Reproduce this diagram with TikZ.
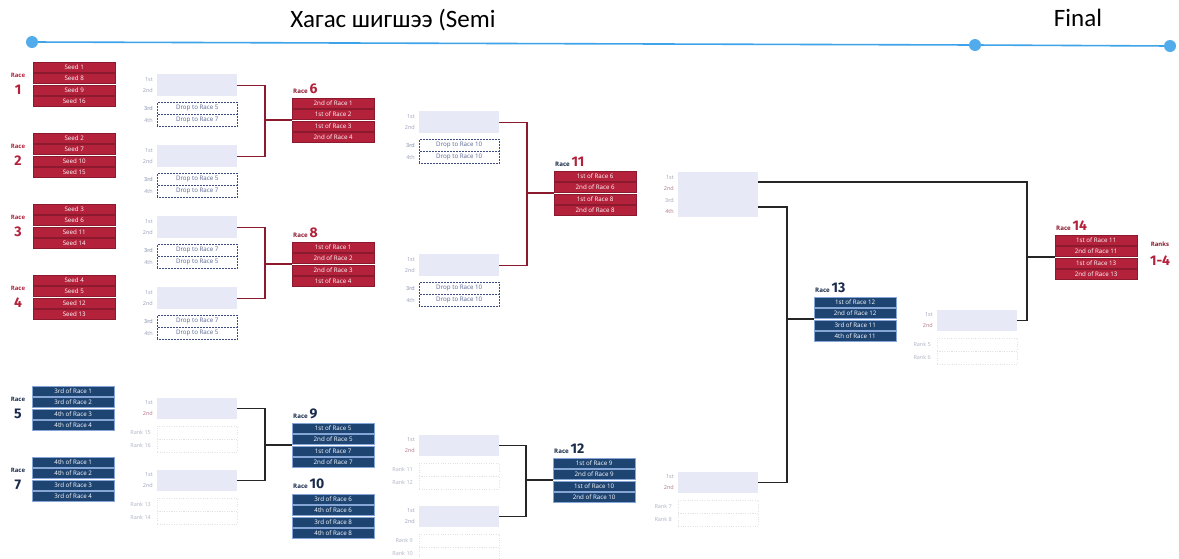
\documentclass[tikz,border=0pt]{standalone}
\usepackage{fontspec}
\setmainfont{Carlito}
\newfontfamily\uifont{Open Sans}
\newfontfamily\numfont{Fira Sans}
\usetikzlibrary{calc}
\definecolor{rred}{HTML}{B3213B}
\definecolor{rredd}{HTML}{8C1A2E}
\definecolor{bblue}{HTML}{1E4472}
\definecolor{bbluel}{HTML}{86A6D8}
\definecolor{navy}{HTML}{1B2B4B}
\definecolor{tl}{HTML}{3FA3EA}
\definecolor{resfill}{HTML}{E7EAF6}
\definecolor{lbl}{HTML}{9CA2B8}
\definecolor{pinklbl}{HTML}{B3788A}
\definecolor{dropc}{HTML}{3C4C80}
\definecolor{linek}{HTML}{262626}
\tikzset{
  rowred/.style={draw=rredd, line width=0.4pt, fill=rred, text=white, minimum width=82pt, minimum height=10pt, inner sep=0pt, font=\uifont\fontsize{6.2}{7}\selectfont, anchor=north west},
  rowblue/.style={rowred, draw=bbluel, fill=bblue},
  resbox/.style={fill=resfill, draw=none, minimum width=80pt, inner sep=0pt, anchor=north west},
  dropbox/.style={draw=dropc, densely dotted, line width=0.5pt, fill=white, minimum width=80pt, minimum height=12pt, inner sep=0pt, anchor=north west, text=dropc!85, font=\uifont\fontsize{6.2}{7}\selectfont},
  rankbox/.style={draw=gray!22, dotted, line width=0.4pt, minimum width=80pt, minimum height=13pt, inner sep=0pt, anchor=north west},
  lab/.style={anchor=east, inner sep=0pt, text=lbl, font=\uifont\fontsize{5.5}{6}\selectfont},
  ranklab/.style={anchor=east, inner sep=0pt, text=lbl!80, font=\uifont\fontsize{5.5}{6}\selectfont},
  redconn/.style={draw=rredd, line width=1.4pt},
  kconn/.style={draw=linek, line width=1.4pt},
  dot/.style={circle, fill=tl!90, draw=none, minimum size=12pt, inner sep=0pt},
  racelab/.style={anchor=base west, inner sep=0pt},
}
\newcommand\rbox[8]{%
  \node[#2] (#1a) at (#3,#4) {#5};
  \node[#2] (#1b) at (#3,{#4+11.4}) {#6};
  \node[#2] (#1c) at (#3,{#4+22.8}) {#7};
  \node[#2] (#1d) at (#3,{#4+34.2}) {#8};
  \coordinate (#1) at (#3,{#4+22.1});
}
\newcommand\resdrop[5]{%
  \node[resbox, minimum height=22pt] (#1) at (#2,#3) {};
  \node[lab] (#1l1) at ({#2-4},{#3+5.5}) {1st};
  \node[lab] (#1l2) at ({#2-4},{#3+16.5}) {2nd};
  \node[dropbox] (#1x) at (#2,{#3+28}) {Drop to Race #4};
  \node[dropbox] (#1y) at (#2,{#3+40}) {Drop to Race #5};
  \node[lab, text=dropc!70] (#1l3) at ({#2-4},{#3+34}) {3rd};
  \node[lab] (#1l4) at ({#2-4},{#3+46}) {4th};
}
\newcommand\resrank[6]{%
  \node[resbox, minimum height=21pt] (#1) at (#2,#3) {};
  \node[lab] (#1l1) at ({#2-4},{#3+5}) {1st};
  \node[lab, text=#6] (#1l2) at ({#2-4},{#3+15.5}) {2nd};
  \node[rankbox] (#1x) at (#2,{#3+27.5}) {};
  \node[rankbox] (#1y) at (#2,{#3+40.5}) {};
  \node[ranklab] (#1l3) at ({#2-6},{#3+34}) {Rank #4};
  \node[ranklab] (#1l4) at ({#2-6},{#3+47.5}) {Rank #5};
}
\newcommand\racetag[3]{% Race colour, number colour, number
  \textcolor{#1}{\uifont\bfseries\fontsize{6.2}{7}\selectfont Race}\,\textcolor{#2}{\numfont\bfseries\fontsize{14}{15}\selectfont #3}}
\begin{document}
\begin{tikzpicture}[x=1pt,y=-1pt]
\useasboundingbox (0,0) rectangle (1179,558);
\fill[white] (0,0) rectangle (1179,558);

% timeline
\node[font=\fontsize{25}{30}\selectfont, text=black] (title) at (393,20) {Хагас шигшээ (Semi};
\node[font=\fontsize{25}{30}\selectfont, text=black] (final) at (1078,18) {Final};
\node[dot] (d1) at (32,42) {};
\node[dot] (d2) at (975,45) {};
\node[dot] (d3) at (1170,46) {};
\draw[tl, line width=1.6pt] (d1) -- (d2) -- (d3);

% left race labels
\foreach \n/\y/\c in {1/62/rred,2/133/rred,3/204/rred,4/275/rred,5/386/navy,7/457/navy}{
  \node[inner sep=0pt, text=\c, font=\uifont\bfseries\fontsize{6}{7}\selectfont] (rl\n) at (18,{\y+13}) {Race};
  \node[inner sep=0pt, text=\c, font=\numfont\bfseries\fontsize{14}{15}\selectfont] (rn\n) at (18,{\y+28}) {\n};
}

% first round races
\rbox{R1}{rowred}{33}{62}{Seed 1}{Seed 8}{Seed 9}{Seed 16}
\rbox{R2}{rowred}{33}{133}{Seed 2}{Seed 7}{Seed 10}{Seed 15}
\rbox{R3}{rowred}{33}{204}{Seed 3}{Seed 6}{Seed 11}{Seed 14}
\rbox{R4}{rowred}{33}{275}{Seed 4}{Seed 5}{Seed 12}{Seed 13}
\rbox{R5}{rowblue}{32}{386}{3rd of Race 1}{3rd of Race 2}{4th of Race 3}{4th of Race 4}
\rbox{R7}{rowblue}{32}{457}{4th of Race 1}{4th of Race 2}{3rd of Race 3}{3rd of Race 4}

% second column results
\resdrop{r1res}{157}{74}{5}{7}
\resdrop{r2res}{157}{145}{5}{7}
\resdrop{r3res}{157}{216}{7}{5}
\resdrop{r4res}{157}{287}{7}{5}
\resrank{r5res}{157}{398}{15}{16}{pinklbl}
\resrank{r7res}{157}{470}{13}{14}{lbl}

% races 6 8 9 10
\rbox{R6}{rowred}{292}{98}{2nd of Race 1}{1st of Race 2}{1st of Race 3}{2nd of Race 4}
\rbox{R8}{rowred}{292}{242}{1st of Race 1}{2nd of Race 2}{2nd of Race 3}{1st of Race 4}
\rbox{R9}{rowblue}{292}{423}{1st of Race 5}{2nd of Race 5}{1st of Race 7}{2nd of Race 7}
\rbox{R10}{rowblue}{292}{494}{3rd of Race 6}{4th of Race 6}{3rd of Race 8}{4th of Race 8}
\node[racelab] (L6) at (293,93) {\racetag{rredd}{rred}{6}};
\node[racelab] (L8) at (293,237) {\racetag{rredd}{rred}{8}};
\node[racelab] (L9) at (293,418) {\racetag{navy}{navy}{9}};
\node[racelab] (L10) at (293,488) {\racetag{navy}{navy}{10}};

% third column results
\resdrop{r6res}{419}{111}{10}{10}
\resdrop{r8res}{419}{254}{10}{10}
\resrank{r9res}{419}{435}{11}{12}{pinklbl}
\resrank{r10res}{419}{506}{9}{10}{lbl}

% races 11 12
\rbox{R11}{rowred}{554}{171}{1st of Race 6}{2nd of Race 6}{1st of Race 8}{2nd of Race 8}
\rbox{R12}{rowblue}{553}{458}{1st of Race 9}{2nd of Race 9}{1st of Race 10}{2nd of Race 10}
\node[racelab] (L11) at (555,166) {\racetag{navy}{rred}{11}};
\node[racelab] (L12) at (554,453) {\racetag{navy}{navy}{12}};

% fourth column results
\node[resbox, minimum height=45pt] (r11res) at (678,172) {};
\node[lab] (r11l1) at (674,177.5) {1st};
\node[lab, text=pinklbl] (r11l2) at (674,188.5) {2nd};
\node[lab] (r11l3) at (674,200) {3rd};
\node[lab, text=pinklbl] (r11l4) at (674,211.5) {4th};
\resrank{r12res}{678}{472}{7}{8}{pinklbl}

% race 13
\rbox{R13}{rowblue}{814}{297}{1st of Race 12}{2nd of Race 12}{3rd of Race 11}{4th of Race 11}
\node[racelab] (L13) at (815,292) {\racetag{navy}{navy}{13}};
\resrank{r13res}{937}{310}{5}{6}{pinklbl}

% race 14
\rbox{R14}{rowred}{1055}{235}{1st of Race 11}{2nd of Race 11}{1st of Race 13}{2nd of Race 13}
\node[racelab] (L14) at (1056,230) {\racetag{rredd}{rred}{14}};
\node[inner sep=0pt, text=rredd, font=\uifont\bfseries\fontsize{6}{7}\selectfont] (ranks) at (1160,244) {Ranks};
\node[inner sep=0pt, text=rred, font=\numfont\bfseries\fontsize{14}{15}\selectfont] (ranksn) at (1160,261) {1-4};

% connectors
\coordinate (j6) at ($(R6)+(-27,0)$);
\draw[redconn] (r1res.east) -| (j6) |- (r2res.east);
\draw[redconn] (j6) -- (R6);
\coordinate (j8) at ($(R8)+(-27,0)$);
\draw[redconn] (r3res.east) -| (j8) |- (r4res.east);
\draw[redconn] (j8) -- (R8);
\coordinate (j9) at ($(R9)+(-27,0)$);
\draw[kconn] (r5res.east) -| (j9) |- (r7res.east);
\draw[kconn] (j9) -- (R9);
\coordinate (j11) at ($(R11)+(-27,0)$);
\draw[redconn] (r6res.east) -| (j11) |- (r8res.east);
\draw[redconn] (j11) -- (R11);
\coordinate (j12) at ($(R12)+(-27,0)$);
\draw[kconn] (r9res.east) -| (j12) |- (r10res.east);
\draw[kconn] (j12) -- (R12);
\coordinate (r11hi) at ($(r11res.north east)+(0,10)$);
\coordinate (r11lo) at ($(r11res.north east)+(0,35)$);
\coordinate (j14) at ($(R14)+(-28,0)$);
\draw[kconn] (r11hi) -| (j14) |- (r13res.east);
\draw[kconn] (j14) -- (R14);
\coordinate (j13) at ($(R13)+(-27,0)$);
\draw[kconn] (r11lo) -| (j13) |- (r12res.east);
\draw[kconn] (j13) -- (R13);
\end{tikzpicture}
\end{document}
